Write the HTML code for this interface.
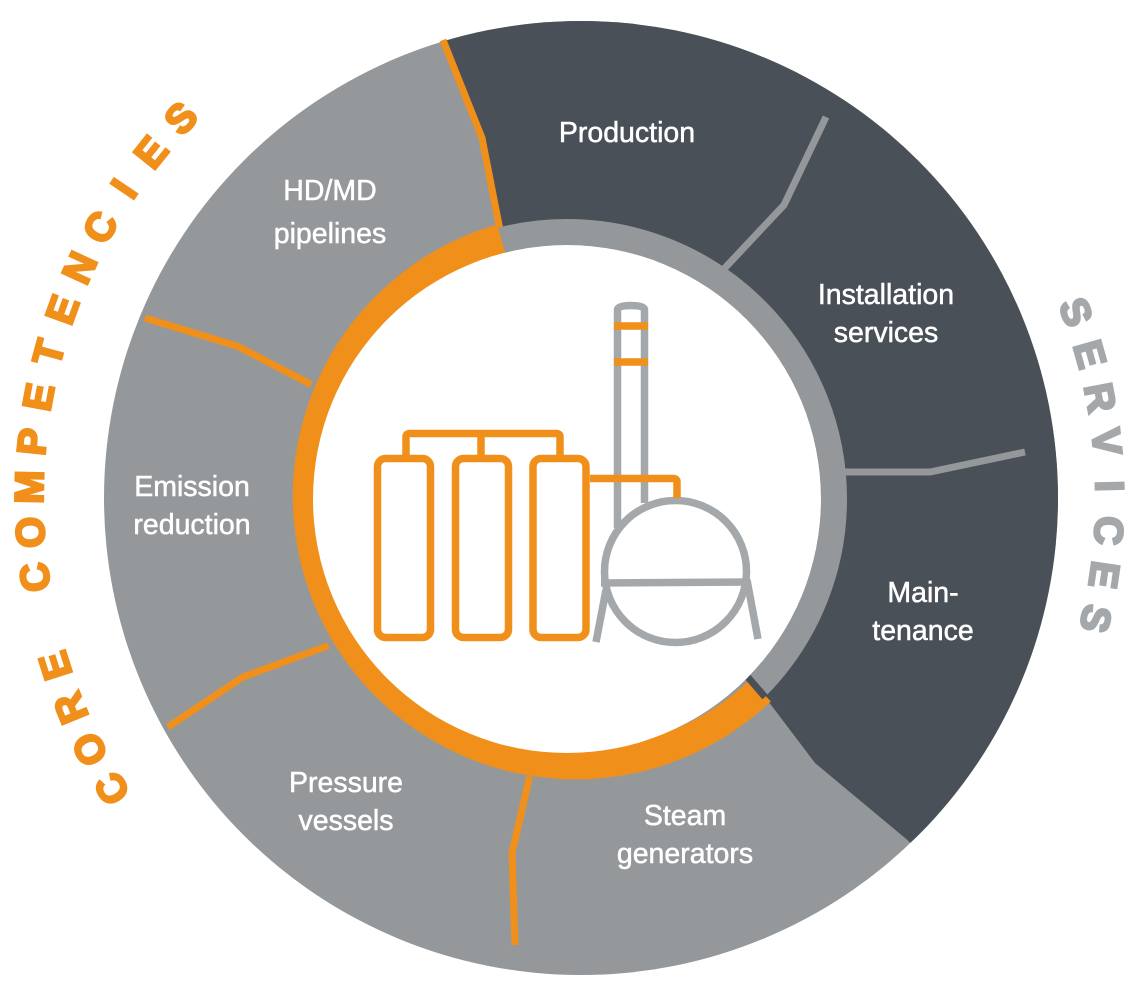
<!DOCTYPE html>
<html><head><meta charset="utf-8">
<style>
html,body{margin:0;padding:0;background:#fff;width:1134px;height:1000px;overflow:hidden;}
svg{display:block;}
.lbl{font-family:"Liberation Sans",sans-serif;font-size:28.5px;fill:#fff;text-anchor:middle;stroke:#fff;stroke-width:0.5;}
</style></head>
<body>
<svg id="s" width="1134" height="1000" viewBox="0 0 1134 1000" xmlns="http://www.w3.org/2000/svg">
<defs>
<clipPath id="oc"><circle cx="581" cy="498" r="477"/></clipPath>
</defs>
<circle cx="581" cy="498" r="477" fill="#95989b"/>
<polygon clip-path="url(#oc)" fill="#4a5058" points="443,40 482,138 500,230 567,499 748,676 762,693 815,763 905,838 1200,1100 1200,-10 430,-10"/>
<g fill="none" stroke-width="7" stroke-linejoin="miter">
<polyline stroke="#f0901a" points="443,40 482,138 500,230"/>
<polyline stroke="#f0901a" points="145,318 237,346 312,385"/>
<polyline stroke="#f0901a" points="168,727 243,677 330,645"/>
<polyline stroke="#f0901a" points="530,775 512,853 515,945"/>
<polyline stroke="#95989b" points="826,117 784,205 723,270"/>
<polyline stroke="#95989b" points="1025,452 930,472 845,472"/>
</g>
<circle cx="567" cy="499" r="267" fill="none" stroke="#95989b" stroke-width="26"/>
<path d="M 760.5 690.5 A 268 268 0 1 1 501.2 238.9" fill="none" stroke="#f0901a" stroke-width="30"/>
<line x1="746" y1="675" x2="765" y2="697" stroke="#4a5058" stroke-width="7"/>
<circle cx="567" cy="499" r="254" fill="#fff"/>
<g fill="none" stroke-width="7.5">
<g stroke="#a5a8aa">
<path d="M617.5,528 V310 Q617.5,305.5 631,305.5 Q644.5,305.5 644.5,310 V503"/>
<circle cx="675.5" cy="571.5" r="71"/>
<line x1="601" y1="583" x2="750" y2="582"/>
<line x1="606" y1="590" x2="596" y2="642"/>
<line x1="747" y1="580" x2="758" y2="639"/>
</g>
<g stroke="#f0901a">
<line x1="614" y1="326" x2="648" y2="326"/>
<line x1="614" y1="362" x2="648" y2="362"/>
<rect x="377.5" y="458.5" width="53" height="179" rx="8"/>
<rect x="455.5" y="458.5" width="53" height="179" rx="8"/>
<rect x="533" y="458.5" width="53" height="179" rx="8"/>
<path d="M406,455 V437 Q406,433.5 410,433.5 H556 Q560,433.5 560,437 V455"/>
<line x1="481" y1="433.5" x2="481" y2="455"/>
<path d="M590,478.5 H673 Q677,478.5 677,482 V498"/>
</g>
</g>
<text class="lbl" x="627" y="142">Production</text>
<text class="lbl" x="330" y="200">HD/MD</text>
<text class="lbl" x="330" y="243">pipelines</text>
<text class="lbl" x="886" y="304">Installation</text>
<text class="lbl" x="886" y="342">services</text>
<text class="lbl" x="192" y="496">Emission</text>
<text class="lbl" x="192" y="534">reduction</text>
<text class="lbl" x="923" y="602">Main-</text>
<text class="lbl" x="923" y="640">tenance</text>
<text class="lbl" x="346" y="792">Pressure</text>
<text class="lbl" x="346" y="830">vessels</text>
<text class="lbl" x="685" y="825">Steam</text>
<text class="lbl" x="685" y="863">generators</text>
<g id="arcs"></g>
</svg>
<script>
(function(){
var g=document.getElementById('arcs');
function place(str,cx,cy,r,a0,a1,fill){
  var n=str.length, step=(a1-a0)/(n-1);
  for(var i=0;i<n;i++){
    var ch=str[i]; if(ch===' ')continue;
    var a=a0+step*i, rad=a*Math.PI/180;
    var x=cx+r*Math.cos(rad), y=cy+r*Math.sin(rad);
    var t=document.createElementNS('http://www.w3.org/2000/svg','text');
    t.setAttribute('x',x.toFixed(1));t.setAttribute('y',(y).toFixed(1));
    t.setAttribute('fill',fill);
    t.setAttribute('stroke',fill);
    t.setAttribute('stroke-width','2.5');
    t.setAttribute('font-family','Liberation Sans, sans-serif');
    t.setAttribute('font-size','40');
    t.setAttribute('font-weight','bold');
    t.setAttribute('text-anchor','middle');
    t.setAttribute('dy','14');
    t.setAttribute('transform','rotate('+(a+90).toFixed(2)+' '+x.toFixed(1)+' '+y.toFixed(1)+')');
    t.textContent=ch; g.appendChild(t);
  }
}
place('CORE COMPETENCIES',581,498,552,148.2,223.5,'#f0901a');
place('SERVICES',581,498,529,-20.6,13.2,'#a5a8aa');
})();
</script>
</body></html>
